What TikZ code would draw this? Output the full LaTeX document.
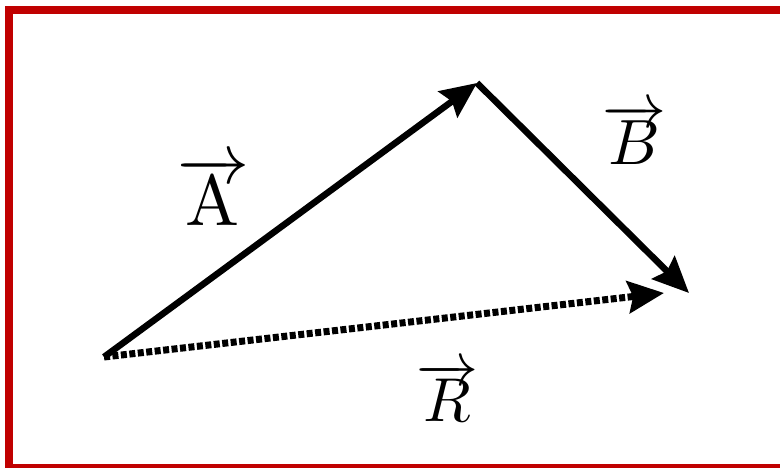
\documentclass[tikz,border=0pt]{standalone}
\usetikzlibrary{arrows.meta}
\definecolor{frame}{RGB}{192,0,0}
\begin{document}
\begin{tikzpicture}[x=1pt,y=-1pt,
  vec/.style={line width=6.5pt,-{Stealth[length=36pt,width=32pt,inset=5pt]}},
  resvec/.style={vec,line width=7pt,dash pattern=on 6pt off 2.5pt},
  lbl/.style={inner sep=0pt}]
\useasboundingbox (0,0) rectangle (780,468);
% red frame (cropped on right and bottom)
\fill[frame] (5,6) rectangle (13,468);
\fill[frame] (5,6) rectangle (780,14);
\fill[frame] (5,464) rectangle (780,468);
% points
\coordinate (O) at (104,357);
\coordinate (P) at (477,83);
\coordinate (Q) at (689,293);
\coordinate (Rend) at (664,293);
\draw[vec] (O) -- (P);
\draw[vec] (P) -- (Q);
\draw[resvec] (O) -- (Rend);
% labels
\node[lbl,scale=7.2] (la) at (213,191) {$\overrightarrow{\mathrm{A}}$};
\node[lbl,scale=6.4] (lb) at (634,134) {$\overrightarrow{B}$};
\node[lbl,scale=6.2] (lr) at (447,392) {$\overrightarrow{R}$};
\end{tikzpicture}
\end{document}
